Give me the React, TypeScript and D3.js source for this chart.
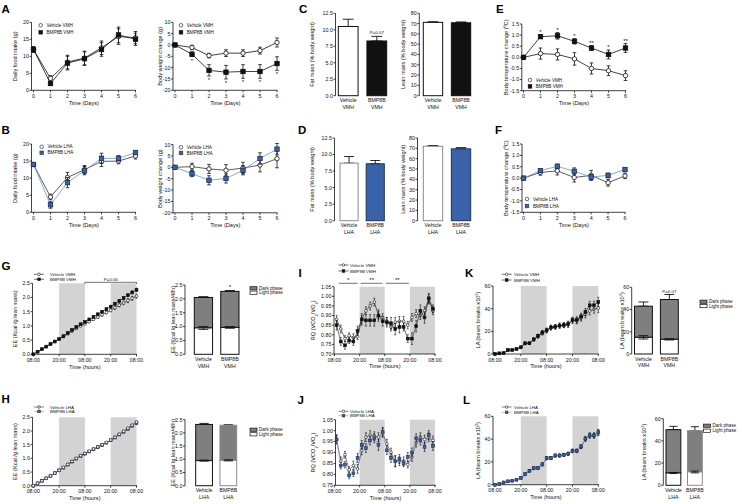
import React from 'react';
import * as d3 from 'd3';

const FONT = "'Liberation Sans', Arial, Helvetica, sans-serif";
const INK = '#111';
const BLUE = '#3a62a8';
const BLUE_EDGE = '#1d3157';
const BLUE_LINE = '#7091cf';
const SHADE = '#d3d3d3';
const DARK_PHASE = '#7f7f7f';
const GREY_EDGE = '#8a8a8a';

// ---------------- data ----------------
const DAYS = [0, 1, 2, 3, 4, 5, 6];
const DAY_LABELS = ['0', '1', '2', '3', '4', '5', '6'];

const foodVmhVeh = [12.0, 3.5, 8.3, 9.5, 12.5, 15.8, 15.5];
const foodVmhVehErr = [0.8, 0.8, 2.0, 2.0, 2.0, 2.3, 1.8];
const foodVmhBmp = [12.0, 2.0, 8.0, 9.3, 12.0, 16.3, 15.0];
const foodVmhBmpErr = [0.8, 0.6, 2.0, 2.0, 2.0, 2.3, 1.8];

const bwVmhVeh = [0, -1.1, -4.7, -3.6, -3.6, -2.5, 1.1];
const bwVmhVehErr = [0.3, 1.0, 1.0, 1.5, 1.5, 1.5, 2.0];
const bwVmhBmp = [0, -4.1, -11.2, -12.0, -11.7, -11.7, -8.2];
const bwVmhBmpErr = [0.3, 1.0, 2.5, 3.0, 3.0, 3.0, 3.0];
const bwVmhStars = ['', '*', '*', '*', '*', '*', '*'];

const VMH_CATS = [['Vehicle', 'VMH'], ['BMP8B', 'VMH']];
const LHA_CATS = [['Vehicle', 'LHA'], ['BMP8B', 'LHA']];
const fatVmh = [10.5, 8.3];
const fatVmhErr = [1.1, 0.7];
const leanVmh = [71.2, 70.8];
const leanVmhErr = [0.6, 0.8];

const tempVmhVeh = [0, 0.17, 0.13, -0.07, -0.5, -0.6, -0.82];
const tempVmhVehErr = [0, 0.25, 0.25, 0.28, 0.25, 0.22, 0.22];
const tempVmhBmp = [0, 0.93, 0.97, 0.72, 0.42, 0.13, 0.42];
const tempVmhBmpErr = [0, 0.08, 0.15, 0.12, 0.1, 0.2, 0.2];
const tempVmhStars = ['', '*', '*', '*', '**', '*', '**'];

const foodLhaVeh = [14.0, 4.5, 10.2, 12.5, 14.9, 15.0, 16.5];
const foodLhaVehErr = [0.5, 0.8, 1.5, 1.2, 1.5, 0.8, 0.9];
const foodLhaBmp = [14.0, 2.2, 8.7, 12.2, 15.8, 15.8, 17.5];
const foodLhaBmpErr = [0.5, 1.0, 1.5, 1.2, 1.5, 0.8, 0.6];

const bwLhaVeh = [0, 0.3, -0.7, -1.3, -0.3, 1.0, 3.8];
const bwLhaVehErr = [0.5, 1.5, 2.0, 2.5, 2.5, 3.0, 4.0];
const bwLhaBmp = [0, -2.8, -5.7, -4.9, -1.3, 3.9, 8.0];
const bwLhaBmpErr = [0.5, 1.3, 2.0, 2.0, 2.0, 2.5, 2.5];

const fatLha = [8.7, 8.6];
const fatLhaErr = [1.0, 0.5];
const leanLha = [72.0, 69.5];
const leanLhaErr = [0.7, 1.2];

const tempLhaVeh = [0, 0.25, 0.32, 0.03, 0.12, -0.2, 0.1];
const tempLhaVehErr = [0, 0.12, 0.18, 0.2, 0.22, 0.15, 0.12];
const tempLhaBmp = [0, 0.33, 0.52, 0.3, 0.05, 0.12, 0.38];
const tempLhaBmpErr = [0, 0.08, 0.1, 0.15, 0.1, 0.1, 0.08];

const HOURS_CUM = [0, 2, 4, 6, 8, 10, 12, 14, 16, 18, 20, 22, 24, 26, 28, 30, 32, 34, 36, 38, 40, 42, 44, 46, 48];
const HOURS_RQ = [1, 3, 5, 7, 9, 11, 13, 15, 17, 19, 21, 23, 25, 27, 29, 31, 33, 35, 37, 39, 41, 43, 45, 47];
const TIME_TICKS = [0, 12, 24, 36, 48];
const TIME_LABELS = ['08:00', '20:00', '08:00', '20:00', '08:00'];
const DARK_PERIODS: [number, number][] = [[12, 24], [36, 48]];

const eeVmhVeh = [0, 0.09, 0.18, 0.27, 0.36, 0.45, 0.53, 0.62, 0.72, 0.82, 0.91, 1.0, 1.07, 1.15, 1.23, 1.31, 1.39, 1.47, 1.55, 1.64, 1.73, 1.81, 1.89, 1.97, 2.05];
const eeVmhVehErr = [0, 0.01, 0.01, 0.01, 0.015, 0.02, 0.02, 0.02, 0.025, 0.03, 0.03, 0.03, 0.035, 0.04, 0.04, 0.045, 0.05, 0.05, 0.055, 0.06, 0.06, 0.065, 0.07, 0.07, 0.075];
const eeVmhBmp = [0, 0.09, 0.18, 0.27, 0.36, 0.45, 0.54, 0.64, 0.75, 0.86, 0.96, 1.06, 1.14, 1.23, 1.32, 1.41, 1.5, 1.59, 1.68, 1.78, 1.88, 1.98, 2.08, 2.18, 2.27];
const eeVmhBmpErr = [0, 0.01, 0.01, 0.01, 0.01, 0.015, 0.015, 0.02, 0.02, 0.02, 0.025, 0.025, 0.03, 0.03, 0.03, 0.035, 0.035, 0.04, 0.04, 0.045, 0.045, 0.05, 0.05, 0.055, 0.06];
const eeVmhPhaseLight = [0.95, 0.97];
const eeVmhPhaseLightErr = [0.05, 0.03];
const eeVmhPhaseTotal = [2.05, 2.27];
const eeVmhPhaseTotalErr = [0.03, 0.03];

const eeLhaVeh = [0, 0.09, 0.18, 0.27, 0.36, 0.46, 0.56, 0.67, 0.78, 0.89, 1.0, 1.1, 1.18, 1.26, 1.34, 1.42, 1.5, 1.58, 1.67, 1.77, 1.88, 1.99, 2.1, 2.21, 2.32];
const eeLhaVehErr = [0, 0.01, 0.01, 0.01, 0.01, 0.015, 0.015, 0.02, 0.02, 0.02, 0.02, 0.025, 0.025, 0.025, 0.03, 0.03, 0.03, 0.03, 0.035, 0.035, 0.035, 0.04, 0.04, 0.04, 0.045];
const eeLhaBmp = [0, 0.09, 0.18, 0.27, 0.36, 0.46, 0.56, 0.66, 0.77, 0.88, 0.99, 1.09, 1.17, 1.25, 1.33, 1.41, 1.49, 1.57, 1.66, 1.76, 1.87, 1.97, 2.08, 2.19, 2.29];
const eeLhaBmpErr = [0, 0.01, 0.01, 0.01, 0.01, 0.01, 0.015, 0.015, 0.015, 0.02, 0.02, 0.02, 0.02, 0.02, 0.025, 0.025, 0.025, 0.025, 0.03, 0.03, 0.03, 0.03, 0.03, 0.035, 0.035];
const eeLhaPhaseLight = [0.95, 0.96];
const eeLhaPhaseLightErr = [0.02, 0.02];
const eeLhaPhaseTotal = [2.32, 2.29];
const eeLhaPhaseTotalErr = [0.04, 0.02];

const rqVmhVeh = [0.88, 0.83, 0.78, 0.795, 0.785, 0.79, 0.88, 0.925, 0.95, 0.97, 0.9, 0.89, 0.87, 0.84, 0.865, 0.87, 0.87, 0.85, 0.89, 0.91, 0.9, 0.925, 0.985, 0.925];
const rqVmhVehErr = [0.02, 0.02, 0.015, 0.015, 0.02, 0.015, 0.02, 0.02, 0.02, 0.02, 0.02, 0.02, 0.02, 0.02, 0.025, 0.025, 0.025, 0.02, 0.02, 0.02, 0.02, 0.02, 0.025, 0.02];
const rqVmhBmp = [0.85, 0.765, 0.745, 0.77, 0.765, 0.82, 0.88, 0.875, 0.875, 0.875, 0.9, 0.87, 0.865, 0.86, 0.83, 0.84, 0.84, 0.78, 0.78, 0.845, 0.925, 0.89, 0.99, 0.935];
const rqVmhBmpErr = [0.025, 0.02, 0.02, 0.015, 0.02, 0.025, 0.03, 0.03, 0.03, 0.03, 0.03, 0.025, 0.025, 0.03, 0.03, 0.03, 0.02, 0.02, 0.03, 0.03, 0.03, 0.03, 0.025, 0.02];
const rqStarSpans: [number, number][] = [[2, 11], [12.5, 23], [24.5, 35.5]];
const rqStarTexts = ['*', '**', '**'];

const rqLhaVeh = [0.96, 0.86, 0.89, 0.82, 0.84, 0.825, 0.91, 0.97, 0.98, 0.975, 0.97, 0.99, 0.94, 0.9, 0.86, 0.86, 0.86, 0.845, 0.88, 0.945, 0.97, 0.96, 0.97, 0.955];
const rqLhaVehErr = [0.02, 0.02, 0.015, 0.015, 0.02, 0.02, 0.02, 0.02, 0.02, 0.02, 0.02, 0.02, 0.02, 0.02, 0.025, 0.02, 0.02, 0.015, 0.02, 0.02, 0.02, 0.02, 0.02, 0.02];
const rqLhaBmp = [0.96, 0.84, 0.845, 0.795, 0.805, 0.875, 0.935, 0.92, 0.955, 0.965, 0.935, 0.995, 0.91, 0.875, 0.86, 0.87, 0.85, 0.88, 0.9, 0.965, 0.955, 0.925, 0.98, 0.93];
const rqLhaBmpErr = [0.02, 0.015, 0.015, 0.015, 0.015, 0.02, 0.02, 0.02, 0.02, 0.02, 0.025, 0.02, 0.02, 0.02, 0.025, 0.02, 0.015, 0.02, 0.02, 0.02, 0.02, 0.02, 0.02, 0.02];

const laVmhVeh = [0, 0.5, 0.8, 3.2, 3.4, 4.3, 5.8, 9.2, 9.4, 12.5, 15.5, 18.5, 20.5, 23, 24, 25, 25.5, 26, 29.5, 29.5, 32, 35, 38, 39.5, 40.5];
const laVmhVehErr = [0, 0.3, 0.3, 0.5, 0.5, 0.6, 0.8, 1, 1, 1.2, 1.5, 1.8, 2, 2, 2, 2.2, 2.2, 2.5, 2.5, 2.8, 3, 3.2, 3.5, 3.5, 4];
const laVmhBmp = [0, 0.6, 0.8, 3.5, 3.5, 4.5, 6, 9.5, 9.5, 13, 16, 19, 21, 23.5, 24, 25, 25.5, 26.5, 30, 30, 33, 37, 43, 43, 46];
const laVmhBmpErr = [0, 0.3, 0.3, 0.5, 0.5, 0.6, 0.8, 1, 1, 1.2, 1.5, 1.8, 2, 2, 2, 2.2, 2.2, 2.5, 2.5, 2.8, 3, 3.2, 3.5, 3.5, 4];
const laVmhPhaseLight = [15.0, 13.2];
const laVmhPhaseLightErr = [1.5, 0.6];
const laVmhPhaseTotal = [43.0, 49.0];
const laVmhPhaseTotalErr = [3.8, 4.5];

const laLhaVeh = [0, 0.5, 1.8, 2.8, 3.3, 4.2, 5.8, 9.0, 12.0, 14.3, 14.5, 17.6, 23.0, 23.2, 25.4, 25.5, 26.1, 27.0, 29.5, 29.6, 33.2, 40.0, 43.0, 43.0, 45.6];
const laLhaVehErr = [0, 0.2, 0.3, 0.4, 0.4, 0.5, 0.6, 0.8, 1, 1, 1, 1.2, 1.2, 1.2, 1.3, 1.3, 1.3, 1.4, 1.5, 1.5, 1.6, 2, 2.2, 2.2, 2.5];
const laLhaBmp = [0, 0.6, 2.0, 3.0, 3.5, 4.4, 6.0, 9.4, 12.3, 14.6, 14.6, 18.0, 23.4, 23.4, 25.7, 25.7, 26.3, 27.2, 29.8, 29.8, 33.6, 40.4, 43.3, 43.3, 46.0];
const laLhaBmpErr = [0, 0.2, 0.3, 0.4, 0.4, 0.5, 0.6, 0.8, 1, 1, 1, 1.2, 1.2, 1.2, 1.3, 1.3, 1.3, 1.4, 1.5, 1.5, 1.6, 2, 2.2, 2.2, 2.5];
const laLhaPhaseLight = [11.1, 12.0];
const laLhaPhaseLightErr = [0.5, 0.8];
const laLhaPhaseTotal = [50.1, 49.2];
const laLhaPhaseTotalErr = [3.0, 3.6];

// ---------------- helpers ----------------
const f0 = (v: number) => String(v);
const f1 = (v: number) => v.toFixed(1);
const f2 = (v: number) => v.toFixed(2);

type Series = {
  xs: number[]; values: number[]; errs: number[];
  marker: 'circle' | 'square'; fill: string; stroke: string; line: string; label: string; legendRank: number;
};

function Marker({ kind, x, y, size, fill, stroke, sw }: any) {
  if (kind === 'circle') return <circle cx={x} cy={y} r={size / 2} fill={fill} stroke={stroke} strokeWidth={sw} />;
  return <rect x={x - size / 2} y={y - size / 2} width={size} height={size} fill={fill} stroke={stroke} strokeWidth={sw} />;
}

function YTitle({ x, y, children, fs = 5.6 }: any) {
  return (
    <text transform={`translate(${x + fs * 0.36},${y}) rotate(-90)`} textAnchor="middle" fontSize={fs} fill={INK}>
      {children}
    </text>
  );
}

function YAxis({ y, x, ticks, fmt, fs = 5.3 }: any) {
  const r = y.range();
  return (
    <g>
      <line x1={x} x2={x} y1={r[0]} y2={r[1]} stroke={INK} strokeWidth={0.8} />
      {ticks.map((t: number) => (
        <g key={t}>
          <line x1={x - 2} x2={x} y1={y(t)} y2={y(t)} stroke={INK} strokeWidth={0.8} />
          <text x={x - 2.6} y={y(t)} dy="0.36em" textAnchor="end" fontSize={fs} fill={INK}>{fmt(t)}</text>
        </g>
      ))}
    </g>
  );
}

function ErrBar({ x, y, v, e, cap, sw }: any) {
  if (!(e > 0)) return null;
  const a = y(v - e), b = y(v + e);
  return (
    <g stroke={INK} strokeWidth={sw}>
      <line x1={x} x2={x} y1={a} y2={b} />
      <line x1={x - cap / 2} x2={x + cap / 2} y1={a} y2={a} />
      <line x1={x - cap / 2} x2={x + cap / 2} y1={b} y2={b} />
    </g>
  );
}

type LCProps = {
  xDomain: [number, number]; xRange: [number, number]; axX: number;
  yDomain: [number, number]; yRange: [number, number]; yTicks: number[]; yFmt: (v: number) => string;
  xTicks: number[]; xLabels: string[]; xTitle: string; yTitle: React.ReactNode; yTitleX: number;
  series: Series[]; ms: number; cap: number; lw: number; shade?: [number, number][];
  legend: { x: number; y: number; dy: number; textX: number; glyph: 'marker' | 'line'; ms: number; fs: number };
  extra?: (x: any, y: any) => React.ReactNode;
};

function LineChart(p: LCProps) {
  const x = d3.scaleLinear().domain(p.xDomain).range(p.xRange);
  const y = d3.scaleLinear().domain(p.yDomain).range(p.yRange);
  const yb = p.yRange[0], yt = p.yRange[1];
  const xEnd = x(p.xDomain[1]) + 0.5;
  const midY = (yb + yt) / 2;
  const midX = (p.axX + xEnd) / 2;
  const legendSeries = [...p.series].sort((a, b) => a.legendRank - b.legendRank);
  return (
    <g>
      {(p.shade || []).map(([a, b], i) => (
        <rect key={'sh' + i} x={x(a)} y={yt} width={x(b) - x(a)} height={yb - yt} fill={SHADE} />
      ))}
      <YAxis y={y} x={p.axX} ticks={p.yTicks} fmt={p.yFmt} />
      <line x1={p.axX} x2={xEnd} y1={yb} y2={yb} stroke={INK} strokeWidth={0.8} />
      {p.xTicks.map((t, i) => (
        <g key={'xt' + i}>
          <line x1={x(t)} x2={x(t)} y1={yb} y2={yb + 2} stroke={INK} strokeWidth={0.8} />
          <text x={x(t)} y={yb + 7.6} textAnchor="middle" fontSize={5.3} fill={INK}>{p.xLabels[i]}</text>
        </g>
      ))}
      <text x={midX} y={yb + 14.4} textAnchor="middle" fontSize={5.6} fill={INK}>{p.xTitle}</text>
      <YTitle x={p.yTitleX} y={midY}>{p.yTitle}</YTitle>
      {p.series.map((s, si) => {
        const path = d3.line<number>().x((_, i) => x(s.xs[i])).y((d) => y(d))(s.values) || '';
        return (
          <g key={'se' + si}>
            {s.values.map((v, i) => (
              <ErrBar key={'e' + i} x={x(s.xs[i])} y={y} v={v} e={s.errs[i]} cap={p.cap} sw={p.lw} />
            ))}
            <path d={path} fill="none" stroke={s.line} strokeWidth={p.lw} />
            {s.values.map((v, i) => (
              <Marker key={'m' + i} kind={s.marker} x={x(s.xs[i])} y={y(v)} size={p.ms}
                fill={s.fill} stroke={s.stroke} sw={p.lw} />
            ))}
          </g>
        );
      })}
      {legendSeries.map((s, si) => {
        const ly = p.legend.y + si * p.legend.dy;
        return (
          <g key={'lg' + si}>
            {p.legend.glyph === 'line' && (
              <line x1={p.legend.x - 5} x2={p.legend.x + 5} y1={ly} y2={ly} stroke={s.line} strokeWidth={0.6} />
            )}
            <Marker kind={s.marker} x={p.legend.x} y={ly} size={p.legend.ms} fill={s.fill} stroke={s.stroke} sw={0.6} />
            <text x={p.legend.textX} y={ly} dy="0.36em" fontSize={p.legend.fs} fill={INK}>{s.label}</text>
          </g>
        );
      })}
      {p.extra && p.extra(x, y)}
    </g>
  );
}

type BarProps = {
  cats: string[][]; values: number[]; errs: number[]; fills: string[]; strokes: string[];
  axX: number; band: [number, number]; yDomain: [number, number]; yRange: [number, number];
  ticks: number[]; fmt: (v: number) => string; yTitle: React.ReactNode; yTitleX: number;
  note?: { index: number; text: string; fs: number };
};

function BarChart(p: BarProps) {
  const bx = d3.scaleBand<number>().domain(p.values.map((_, i) => i)).range(p.band).paddingInner(0.31).paddingOuter(0);
  const y = d3.scaleLinear().domain(p.yDomain).range(p.yRange);
  const yb = p.yRange[0];
  return (
    <g>
      <YAxis y={y} x={p.axX} ticks={p.ticks} fmt={p.fmt} />
      <YTitle x={p.yTitleX} y={(p.yRange[0] + p.yRange[1]) / 2}>{p.yTitle}</YTitle>
      {p.values.map((v, i) => {
        const x0 = bx(i) as number, w = bx.bandwidth(), cx = x0 + w / 2;
        return (
          <g key={i}>
            <ErrBar x={cx} y={y} v={v + p.errs[i] / 2} e={p.errs[i] / 2} cap={w * 0.55} sw={0.9} />
            <rect x={x0} y={y(v)} width={w} height={yb - y(v)} fill={p.fills[i]} stroke={p.strokes[i]} strokeWidth={1} />
            <text x={cx} y={yb + 6.6} textAnchor="middle" fontSize={5.2} fill={INK}>{p.cats[i][0]}</text>
            <text x={cx} y={yb + 13.2} textAnchor="middle" fontSize={5.2} fill={INK}>{p.cats[i][1]}</text>
            {p.note && p.note.index === i && (
              <text x={cx} y={y(v + p.errs[i]) - 2.2} textAnchor="middle" fontSize={p.note.fs} fill={INK}>{p.note.text}</text>
            )}
          </g>
        );
      })}
    </g>
  );
}

type StackProps = {
  cats: string[][]; light: number[]; lightErr: number[]; total: number[]; totalErr: number[];
  strokes: string[]; axX: number; band: [number, number]; yDomain: [number, number]; yRange: [number, number];
  ticks: number[]; fmt: (v: number) => string; yTitle: React.ReactNode; yTitleX: number;
  note?: { index: number; text: string; fs: number };
  legend: { x: number; y: number; dy: number };
};

function StackChart(p: StackProps) {
  const bx = d3.scaleBand<number>().domain(p.total.map((_, i) => i)).range(p.band).paddingInner(0.31).paddingOuter(0);
  const y = d3.scaleLinear().domain(p.yDomain).range(p.yRange);
  const yb = p.yRange[0];
  return (
    <g>
      <YAxis y={y} x={p.axX} ticks={p.ticks} fmt={p.fmt} />
      <YTitle x={p.yTitleX} y={(p.yRange[0] + p.yRange[1]) / 2}>{p.yTitle}</YTitle>
      {p.total.map((t, i) => {
        const x0 = bx(i) as number, w = bx.bandwidth(), cx = x0 + w / 2;
        const l = p.light[i];
        return (
          <g key={i}>
            <ErrBar x={cx} y={y} v={t + p.totalErr[i] / 2} e={p.totalErr[i] / 2} cap={w * 0.55} sw={0.9} />
            <rect x={x0} y={y(t)} width={w} height={y(l) - y(t)} fill={DARK_PHASE} stroke={p.strokes[i]} strokeWidth={1} />
            <rect x={x0} y={y(l)} width={w} height={yb - y(l)} fill="#fff" stroke={p.strokes[i]} strokeWidth={1} />
            <ErrBar x={cx} y={y} v={l} e={p.lightErr[i]} cap={w * 0.55} sw={0.9} />
            <text x={cx} y={yb + 6.6} textAnchor="middle" fontSize={5.2} fill={INK}>{p.cats[i][0]}</text>
            <text x={cx} y={yb + 13.2} textAnchor="middle" fontSize={5.2} fill={INK}>{p.cats[i][1]}</text>
            {p.note && p.note.index === i && (
              <text x={cx} y={y(t + p.totalErr[i]) - 2} textAnchor="middle" fontSize={p.note.fs} fill={INK}>{p.note.text}</text>
            )}
          </g>
        );
      })}
      {['Dark phase', 'Light phase'].map((lab, i) => (
        <g key={lab}>
          <rect x={p.legend.x} y={p.legend.y + i * p.legend.dy - 1.6} width={7} height={3.2}
            fill={i === 0 ? DARK_PHASE : '#fff'} stroke={INK} strokeWidth={0.7} />
          <text x={p.legend.x + 9} y={p.legend.y + i * p.legend.dy} dy="0.36em" fontSize={4.6} fill={INK}>{lab}</text>
        </g>
      ))}
    </g>
  );
}

function Letter({ x, y, t }: any) {
  return <text x={x} y={y} fontSize={11.5} fontWeight="bold" fill="#000">{t}</text>;
}

// series factories (styles)
const vehVmh = (xs: number[], values: number[], errs: number[]): Series =>
  ({ xs, values, errs, marker: 'circle', fill: '#fff', stroke: INK, line: INK, label: 'Vehicle VMH', legendRank: 0 });
const bmpVmh = (xs: number[], values: number[], errs: number[]): Series =>
  ({ xs, values, errs, marker: 'square', fill: INK, stroke: INK, line: INK, label: 'BMP8B VMH', legendRank: 1 });
const vehLha = (xs: number[], values: number[], errs: number[]): Series =>
  ({ xs, values, errs, marker: 'circle', fill: '#fff', stroke: INK, line: '#333', label: 'Vehicle LHA', legendRank: 0 });
const bmpLha = (xs: number[], values: number[], errs: number[]): Series =>
  ({ xs, values, errs, marker: 'square', fill: BLUE, stroke: BLUE_EDGE, line: BLUE_LINE, label: 'BMP8B LHA', legendRank: 1 });

const RQ_TITLE = (
  <>
    RQ (VCO<tspan baselineShift="sub" fontSize={4}>2</tspan>/VO<tspan baselineShift="sub" fontSize={4}>2</tspan>)
  </>
);
const LA_TITLE = (
  <>
    LA (beam breaks x10<tspan baselineShift="super" fontSize={4}>3</tspan>)
  </>
);

function DayChart(props: any) {
  return (
    <LineChart xDomain={[0, 6]} xTicks={DAYS} xLabels={DAY_LABELS} xTitle="Time (Days)"
      ms={4.4} cap={3.6} lw={0.8} {...props} />
  );
}

function TimeChart(props: any) {
  return (
    <LineChart xDomain={[0, 48]} xTicks={TIME_TICKS} xLabels={TIME_LABELS} xTitle="Time (hours)"
      ms={2.8} cap={2} lw={0.6} shade={DARK_PERIODS} {...props} />
  );
}

export default function App() {
  return (
    <svg width={747} height={504} viewBox="0 0 747 504" fontFamily={FONT}
      style={{ position: 'absolute', left: 0, top: 0, display: 'block', background: '#fff' }}>
      <rect width={747} height={504} fill="#fff" />

      {/* ---------- A ---------- */}
      <Letter x={1.5} y={12.8} t="A" />
      <DayChart xRange={[33.5, 135.5]} axX={31.5} yDomain={[0, 20]} yRange={[90.3, 22.3]}
        yTicks={[0, 5, 10, 15, 20]} yFmt={f0} yTitle="Daily food intake (g)" yTitleX={15}
        series={[vehVmh(DAYS, foodVmhVeh, foodVmhVehErr), bmpVmh(DAYS, foodVmhBmp, foodVmhBmpErr)]}
        legend={{ x: 40.7, y: 25.3, dy: 7, textX: 46.5, glyph: 'marker', ms: 3.6, fs: 4.6 }} />
      <DayChart xRange={[175, 277]} axX={173} yDomain={[-20, 10]} yRange={[90.3, 22.3]}
        yTicks={[-20, -15, -10, -5, 0, 5, 10]} yFmt={f0} yTitle="Body weight change (g)" yTitleX={159.5}
        series={[vehVmh(DAYS, bwVmhVeh, bwVmhVehErr), bmpVmh(DAYS, bwVmhBmp, bwVmhBmpErr)]}
        legend={{ x: 181, y: 25.3, dy: 7, textX: 186.8, glyph: 'marker', ms: 3.6, fs: 4.6 }}
        extra={(x: any, y: any) => bwVmhStars.map((s, i) => s ? (
          <text key={i} x={x(DAYS[i])} y={y(bwVmhBmp[i] - bwVmhBmpErr[i]) + 6} textAnchor="middle" fontSize={6} fill={INK}>{s}</text>
        ) : null)} />

      {/* ---------- C ---------- */}
      <Letter x={299} y={12.8} t="C" />
      <BarChart cats={VMH_CATS} values={fatVmh} errs={fatVmhErr} fills={['#fff', INK]} strokes={[INK, INK]}
        axX={335.5} band={[338.3, 386.7]} yDomain={[0, 12.5]} yRange={[95.7, 13.3]}
        ticks={[0, 2.5, 5, 7.5, 10, 12.5]} fmt={f1} yTitle="Fat mass (% body weight)" yTitleX={312}
        note={{ index: 1, text: 'P=0.07', fs: 4.4 }} />
      <BarChart cats={VMH_CATS} values={leanVmh} errs={leanVmhErr} fills={['#fff', INK]} strokes={[INK, INK]}
        axX={419.3} band={[423.3, 470.7]} yDomain={[0, 80]} yRange={[95.7, 13.3]}
        ticks={[0, 10, 20, 30, 40, 50, 60, 70, 80]} fmt={f0} yTitle="Lean mass (% body weight)" yTitleX={402.7} />

      {/* ---------- E ---------- */}
      <Letter x={496} y={12.8} t="E" />
      <DayChart xRange={[523.5, 625.5]} axX={521.8} yDomain={[-1.5, 1.5]} yRange={[90.7, 24]}
        yTicks={[-1.5, -1.0, -0.5, 0, 0.5, 1.0, 1.5]} yFmt={f1} yTitle="Body temperature change (ºC)" yTitleX={505.5}
        series={[vehVmh(DAYS, tempVmhVeh, tempVmhVehErr), bmpVmh(DAYS, tempVmhBmp, tempVmhBmpErr)]}
        legend={{ x: 530, y: 80, dy: 6.4, textX: 535.8, glyph: 'marker', ms: 3.6, fs: 4.6 }}
        extra={(x: any, y: any) => tempVmhStars.map((s, i) => s ? (
          <text key={i} x={x(DAYS[i])} y={y(tempVmhBmp[i] + tempVmhBmpErr[i]) - 0.8} textAnchor="middle" fontSize={6} fill={INK}>{s}</text>
        ) : null)} />

      {/* ---------- B ---------- */}
      <Letter x={1.5} y={134} t="B" />
      <DayChart xRange={[33.5, 135.5]} axX={31.5} yDomain={[0, 20]} yRange={[212.3, 144]}
        yTicks={[0, 5, 10, 15, 20]} yFmt={f0} yTitle="Daily food intake (g)" yTitleX={15}
        series={[vehLha(DAYS, foodLhaVeh, foodLhaVehErr), bmpLha(DAYS, foodLhaBmp, foodLhaBmpErr)]}
        legend={{ x: 41.7, y: 146.8, dy: 6, textX: 47.5, glyph: 'marker', ms: 3.6, fs: 4.6 }} />
      <DayChart xRange={[175, 277]} axX={173} yDomain={[-20, 10]} yRange={[212.8, 144.6]}
        yTicks={[-20, -15, -10, -5, 0, 5, 10]} yFmt={f0} yTitle="Body weight change (g)" yTitleX={159.5}
        series={[vehLha(DAYS, bwLhaVeh, bwLhaVehErr), bmpLha(DAYS, bwLhaBmp, bwLhaBmpErr)]}
        legend={{ x: 181, y: 147.3, dy: 5.6, textX: 186.8, glyph: 'marker', ms: 3.6, fs: 4.6 }} />

      {/* ---------- D ---------- */}
      <Letter x={298} y={134} t="D" />
      <BarChart cats={LHA_CATS} values={fatLha} errs={fatLhaErr} fills={['#fff', BLUE]} strokes={[GREY_EDGE, BLUE_EDGE]}
        axX={334.5} band={[340, 384.3]} yDomain={[0, 12.5]} yRange={[220.7, 138]}
        ticks={[0, 2.5, 5, 7.5, 10, 12.5]} fmt={f1} yTitle="Fat mass (% body weight)" yTitleX={312.3} />
      <BarChart cats={LHA_CATS} values={leanLha} errs={leanLhaErr} fills={['#fff', BLUE]} strokes={[GREY_EDGE, BLUE_EDGE]}
        axX={417.5} band={[423.3, 470.7]} yDomain={[0, 80]} yRange={[220.7, 138]}
        ticks={[0, 10, 20, 30, 40, 50, 60, 70, 80]} fmt={f0} yTitle="Lean mass (% body weight)" yTitleX={402.5} />

      {/* ---------- F ---------- */}
      <Letter x={495} y={134} t="F" />
      <DayChart xRange={[523.5, 625]} axX={522} yDomain={[-1.5, 1.5]} yRange={[212.3, 144]}
        yTicks={[-1.5, -1.0, -0.5, 0, 0.5, 1.0, 1.5]} yFmt={f1} yTitle="Body temperature change (ºC)" yTitleX={505.5}
        series={[vehLha(DAYS, tempLhaVeh, tempLhaVehErr), bmpLha(DAYS, tempLhaBmp, tempLhaBmpErr)]}
        legend={{ x: 527, y: 199, dy: 7, textX: 533, glyph: 'marker', ms: 3.6, fs: 4.6 }} />

      {/* ---------- G ---------- */}
      <Letter x={1.5} y={269.5} t="G" />
      <TimeChart xRange={[33.3, 136.5]} axX={32.5} yDomain={[0, 2.5]} yRange={[354.3, 283.3]}
        yTicks={[0, 0.5, 1, 1.5, 2, 2.5]} yFmt={f1} yTitle="EE (Kcal /g lean mass)" yTitleX={15}
        series={[vehVmh(HOURS_CUM, eeVmhVeh, eeVmhVehErr), bmpVmh(HOURS_CUM, eeVmhBmp, eeVmhBmpErr)]}
        legend={{ x: 39, y: 274.3, dy: 5, textX: 50, glyph: 'line', ms: 2.6, fs: 4.4 }}
        extra={(x: any) => (
          <g>
            <path d={`M${x(24)},284 V282.3 H${x(48)} V284`} fill="none" stroke={INK} strokeWidth={0.6} />
            <text x={(x(24) + x(48)) / 2} y={280.8} textAnchor="middle" fontSize={4.4} fill={INK}>P=0.06</text>
          </g>
        )} />
      <StackChart cats={VMH_CATS} light={eeVmhPhaseLight} lightErr={eeVmhPhaseLightErr}
        total={eeVmhPhaseTotal} totalErr={eeVmhPhaseTotalErr} strokes={[INK, INK]}
        axX={185} band={[194.3, 239]} yDomain={[0, 2.5]} yRange={[354.3, 285]}
        ticks={[0, 0.5, 1, 1.5, 2, 2.5]} fmt={f1} yTitle="EE (Kcal /g lean mass/48h)" yTitleX={172.5}
        note={{ index: 1, text: '*', fs: 6 }} legend={{ x: 250, y: 288.3, dy: 4.4 }} />

      {/* ---------- I ---------- */}
      <Letter x={298.5} y={276.8} t="I" />
      <TimeChart xRange={[334.5, 435]} axX={334} yDomain={[0.7, 1.05]} yRange={[354, 286.7]}
        yTicks={[0.7, 0.75, 0.8, 0.85, 0.9, 0.95, 1.0, 1.05]} yFmt={f2} yTitle={RQ_TITLE} yTitleX={313.3}
        series={[vehVmh(HOURS_RQ, rqVmhVeh, rqVmhVehErr), bmpVmh(HOURS_RQ, rqVmhBmp, rqVmhBmpErr)]}
        legend={{ x: 343.5, y: 265, dy: 6, textX: 350, glyph: 'line', ms: 2.6, fs: 4.4 }}
        extra={(x: any) => (
          <g>
            {rqStarSpans.map(([a, b], i) => (
              <g key={i}>
                <line x1={x(a)} x2={x(b)} y1={283.3} y2={283.3} stroke={INK} strokeWidth={0.6} />
                <text x={(x(a) + x(b)) / 2} y={282.3} textAnchor="middle" fontSize={6} fill={INK}>{rqStarTexts[i]}</text>
              </g>
            ))}
          </g>
        )} />

      {/* ---------- K ---------- */}
      <Letter x={465} y={276.8} t="K" />
      <TimeChart xRange={[495, 598.3]} axX={493} yDomain={[0, 60]} yRange={[354, 286]}
        yTicks={[0, 20, 40, 60]} yFmt={f0} yTitle={LA_TITLE} yTitleX={478}
        series={[vehVmh(HOURS_CUM, laVmhVeh, laVmhVehErr), bmpVmh(HOURS_CUM, laVmhBmp, laVmhBmpErr)]}
        legend={{ x: 506.7, y: 274.3, dy: 5.7, textX: 514, glyph: 'line', ms: 2.6, fs: 4.4 }} />
      <StackChart cats={VMH_CATS} light={laVmhPhaseLight} lightErr={laVmhPhaseLightErr}
        total={laVmhPhaseTotal} totalErr={laVmhPhaseTotalErr} strokes={[INK, INK]}
        axX={631.7} band={[634.5, 678.3]} yDomain={[0, 60]} yRange={[354, 287.3]}
        ticks={[0, 20, 40, 60]} fmt={f0} yTitle={LA_TITLE} yTitleX={621.5}
        note={{ index: 1, text: 'P=0.07', fs: 4.4 }} legend={{ x: 700, y: 301.7, dy: 4.4 }} />

      {/* ---------- H ---------- */}
      <Letter x={1.5} y={402.5} t="H" />
      <TimeChart xRange={[33.3, 136.5]} axX={32.5} yDomain={[0, 2.5]} yRange={[485.7, 417.3]}
        yTicks={[0, 0.5, 1, 1.5, 2, 2.5]} yFmt={f1} yTitle="EE (Kcal /g lean mass)" yTitleX={15}
        series={[bmpLha(HOURS_CUM, eeLhaBmp, eeLhaBmpErr), vehLha(HOURS_CUM, eeLhaVeh, eeLhaVehErr)]}
        legend={{ x: 39, y: 407, dy: 4.4, textX: 50, glyph: 'line', ms: 2.6, fs: 4.4 }} />
      <StackChart cats={LHA_CATS} light={eeLhaPhaseLight} lightErr={eeLhaPhaseLightErr}
        total={eeLhaPhaseTotal} totalErr={eeLhaPhaseTotalErr} strokes={[INK, GREY_EDGE]}
        axX={185} band={[195.7, 236.7]} yDomain={[0, 2.5]} yRange={[485.7, 419.7]}
        ticks={[0, 0.5, 1, 1.5, 2, 2.5]} fmt={f1} yTitle="EE (Kcal /g lean mass/48h)" yTitleX={172.5}
        legend={{ x: 250, y: 429.7, dy: 4.6 }} />

      {/* ---------- J ---------- */}
      <Letter x={297.5} y={404} t="J" />
      <TimeChart xRange={[334.5, 435]} axX={335.5} yDomain={[0.75, 1.05]} yRange={[485.3, 419.7]}
        yTicks={[0.75, 0.8, 0.85, 0.9, 0.95, 1.0, 1.05]} yFmt={f2} yTitle={RQ_TITLE} yTitleX={313.3}
        series={[vehLha(HOURS_RQ, rqLhaVeh, rqLhaVehErr), bmpLha(HOURS_RQ, rqLhaBmp, rqLhaBmpErr)]}
        legend={{ x: 343.5, y: 411.3, dy: 4.4, textX: 350, glyph: 'line', ms: 2.6, fs: 4.4 }} />

      {/* ---------- L ---------- */}
      <Letter x={463} y={404} t="L" />
      <TimeChart xRange={[495, 598.3]} axX={493} yDomain={[0, 60]} yRange={[484.7, 416.3]}
        yTicks={[0, 20, 40, 60]} yFmt={f0} yTitle={LA_TITLE} yTitleX={478}
        series={[vehLha(HOURS_CUM, laLhaVeh, laLhaVehErr), bmpLha(HOURS_CUM, laLhaBmp, laLhaBmpErr)]}
        legend={{ x: 506.7, y: 407, dy: 5.3, textX: 514, glyph: 'line', ms: 2.6, fs: 4.4 }} />
      <StackChart cats={LHA_CATS} light={laLhaPhaseLight} lightErr={laLhaPhaseLightErr}
        total={laLhaPhaseTotal} totalErr={laLhaPhaseTotalErr} strokes={[INK, GREY_EDGE]}
        axX={663.3} band={[666, 702.3]} yDomain={[0, 60]} yRange={[485.3, 418.7]}
        ticks={[0, 20, 40, 60]} fmt={f0} yTitle={LA_TITLE} yTitleX={644}
        legend={{ x: 703.5, y: 425.7, dy: 5 }} />
    </svg>
  );
}
